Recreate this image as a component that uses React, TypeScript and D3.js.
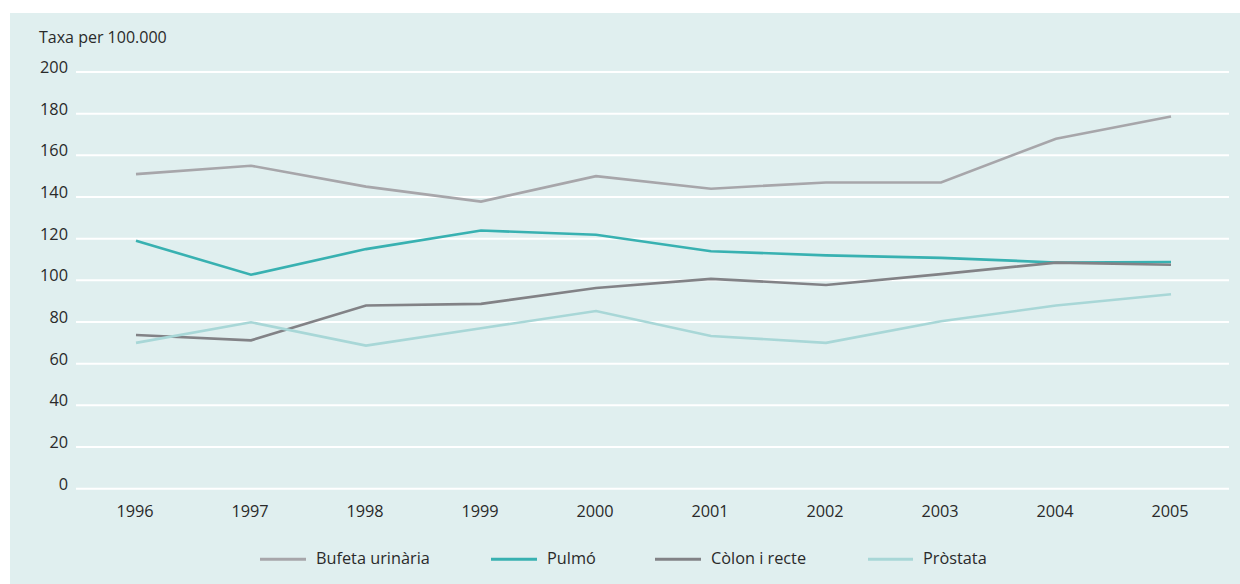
import React from "react";
import * as d3 from "d3";

const years = ["1996", "1997", "1998", "1999", "2000", "2001", "2002", "2003", "2004", "2005"];
const bufeta = [151, 155, 145, 137.8, 150, 144, 147, 147, 168, 178.6];
const pulmo = [119, 102.7, 115, 123.9, 121.9, 114, 112, 110.8, 108.6, 108.8];
const colon = [73.8, 71.2, 87.9, 88.7, 96.3, 100.7, 97.8, 103, 108.5, 107.5];
const prostata = [70, 79.9, 68.7, 77, 85.3, 73.3, 70, 80.4, 87.9, 93.3];
const yTicks = [0, 20, 40, 60, 80, 100, 120, 140, 160, 180, 200];

const series = [
  { name: "Bufeta urinària", values: bufeta, color: "#a7a6aa" },
  { name: "Pulmó", values: pulmo, color: "#38b1b1" },
  { name: "Còlon i recte", values: colon, color: "#828286" },
  { name: "Pròstata", values: prostata, color: "#a8d7d7" },
];
const legendX = [260, 491, 655, 868];
const legendLen = [46, 46, 46, 45];

const FONT = "'Open Sans', sans-serif";

export default function App() {
  const x = d3.scalePoint<string>().domain(years).range([136, 1171]);
  const y = d3.scaleLinear().domain([0, 200]).range([488.7, 72]);
  const line = d3
    .line<number>()
    .x((_, i) => x(years[i]) as number)
    .y((v) => y(v));

  return (
    <svg
      width={1240}
      height={584}
      style={{ position: "absolute", left: 0, top: 0, background: "#ffffff" }}
      fontFamily={FONT}
    >
      <rect x={10} y={13} width={1230} height={571} fill="#e0efef" />
      <text x={39} y={43} fontSize={16} fill="#2a2a2a">
        Taxa per 100.000
      </text>
      {yTicks.map((t) => (
        <g key={t}>
          <line x1={76} x2={1229} y1={y(t)} y2={y(t)} stroke="#ffffff" strokeWidth={2} />
          <text x={68} y={y(t) + 1} fontSize={16.3} textAnchor="end" fill="#2a2a2a">
            {t}
          </text>
        </g>
      ))}
      {years.map((yr) => (
        <text key={yr} x={(x(yr) as number) - 1} y={516.5} fontSize={16.3} textAnchor="middle" fill="#2a2a2a">
          {yr}
        </text>
      ))}
      {series.map((s) => (
        <path key={s.name} d={line(s.values) || ""} fill="none" stroke={s.color} strokeWidth={2.6} strokeLinejoin="miter" />
      ))}
      {series.map((s, i) => (
        <g key={s.name}>
          <line
            x1={legendX[i]}
            x2={legendX[i] + legendLen[i]}
            y1={559.3}
            y2={559.3}
            stroke={s.color}
            strokeWidth={3}
          />
          <text x={legendX[i] + legendLen[i] + 10} y={564.3} fontSize={16.3} fill="#2a2a2a">
            {s.name}
          </text>
        </g>
      ))}
    </svg>
  );
}
